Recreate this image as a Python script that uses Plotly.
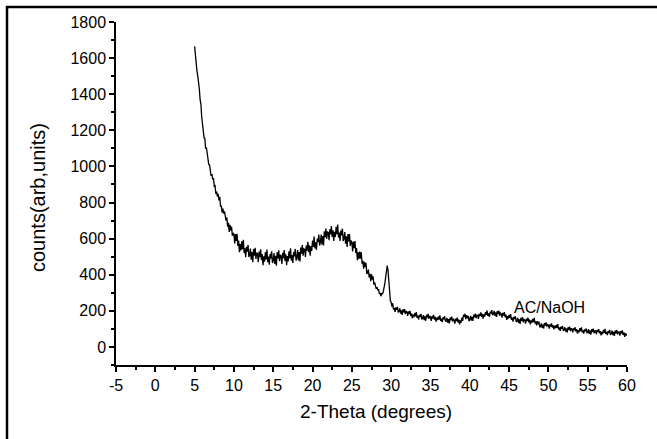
import plotly.graph_objects as go

# XRD scan: 2-theta from 5.0 to 60.0 deg, step 0.1 deg
theta_start = 5.0
theta_step = 0.1

counts = [
    # 5.0 - 5.9
    1665, 1605, 1592, 1528, 1502, 1435, 1430, 1368, 1347, 1275,
    # 6
    1232, 1217, 1158, 1155, 1098, 1105, 1063, 1060, 1010, 1008,
    # 7
    985, 948, 957, 928, 935, 890, 893, 848, 860, 833,
    # 8
    848, 812, 832, 777, 783, 744, 767, 739, 751, 702,
    # 9
    700, 717, 666, 687, 637, 677, 645, 666, 616, 632,
    # 10
    625, 573, 625, 588, 627, 560, 590, 525, 570, 535,
    # 11
    585, 542, 593, 520, 546, 497, 555, 528, 565, 498,
    # 12
    507, 545, 483, 526, 469, 542, 505, 549, 488, 522,
    # 13
    515, 469, 528, 497, 541, 480, 514, 453, 502, 472,
    # 14
    525, 485, 540, 470, 500, 455, 515, 490, 530, 465,
    # 15
    480, 520, 460, 505, 450, 525, 490, 535, 475, 510,
    # 16
    505, 460, 521, 491, 537, 477, 513, 453, 504, 474,
    # 17
    530, 491, 547, 478, 509, 465, 526, 502, 543, 479,
    # 18
    495, 537, 479, 526, 473, 550, 517, 564, 506, 543,
    # 19
    540, 498, 561, 534, 582, 525, 563, 506, 559, 532,
    # 20
    590, 554, 612, 546, 579, 538, 601, 580, 623, 562,
    # 21
    580, 623, 566, 614, 562, 640, 608, 656, 599, 637,
    # 22
    635, 591, 652, 623, 669, 610, 646, 587, 638, 609,
    # 23
    665, 624, 678, 606, 634, 587, 645, 618, 655, 587,
    # 24
    600, 636, 572, 613, 554, 625, 585, 625, 560, 590,
    # 25
    580, 529, 583, 547, 586, 520, 548, 481, 524, 487,
    # 26
    529, 489, 525, 461, 477, 433, 472, 443, 466, 405,
    # 27
    411, 428, 385, 405, 365, 403, 373, 391, 346, 358,
    # 28
    343, 322, 331, 314, 320, 294, 300, 281, 298, 293,
    # 29
    306, 322, 352, 385, 425, 450, 425, 365, 300, 255,
    # 30
    248, 224, 242, 207, 217, 194, 219, 206, 222, 192,
    # 31
    198, 214, 185, 203, 177, 208, 191, 210, 182, 197,
    # 32
    194, 172, 197, 182, 200, 171, 186, 158, 179, 165,
    # 33
    188, 170, 193, 161, 173, 152, 178, 166, 183, 153,
    # 34
    158, 176, 149, 169, 145, 178, 163, 183, 156, 172,
    # 35
    164, 144, 171, 158, 178, 151, 167, 140, 162, 149,
    # 36
    168, 151, 175, 144, 157, 137, 164, 153, 171, 142,
    # 37
    143, 161, 134, 154, 130, 163, 148, 168, 141, 157,
    # 38
    149, 129, 156, 143, 163, 136, 152, 125, 147, 134,
    # 39
    162, 144, 178, 165, 184, 154, 176, 158, 172, 143,
    # 40
    153, 172, 146, 167, 144, 178, 164, 185, 159, 176,
    # 41
    174, 155, 183, 172, 192, 166, 183, 157, 180, 168,
    # 42
    193, 177, 202, 172, 186, 167, 195, 185, 204, 176,
    # 43
    183, 200, 172, 191, 166, 198, 182, 201, 173, 188,
    # 44
    184, 163, 189, 174, 193, 165, 179, 150, 171, 157,
    # 45
    178, 160, 182, 150, 162, 140, 166, 154, 170, 139,
    # 46
    143, 161, 133, 153, 128, 161, 145, 165, 137, 153,
    # 47
    149, 129, 156, 143, 163, 136, 152, 125, 147, 134,
    # 48
    155, 138, 161, 130, 142, 120, 143, 126, 140, 109,
    # 49
    114, 130, 106, 124, 102, 132, 118, 136, 112, 126,
    # 50
    119, 101, 125, 113, 131, 107, 121, 97, 117, 105,
    # 51
    122, 105, 126, 97, 108, 89, 112, 101, 116, 89,
    # 52
    94, 109, 85, 102, 80, 109, 95, 112, 88, 101,
    # 53
    99, 81, 104, 92, 109, 85, 98, 74, 93, 81,
    # 54
    104, 88, 109, 81, 92, 74, 97, 87, 102, 76,
    # 55
    82, 98, 73, 91, 68, 98, 83, 101, 76, 90,
    # 56
    89, 71, 94, 82, 99, 75, 88, 64, 83, 71,
    # 57
    94, 78, 100, 71, 83, 65, 88, 78, 94, 67,
    # 58
    74, 90, 66, 83, 61, 91, 76, 94, 70, 83,
    # 59
    82, 63, 87, 74, 92, 67, 81, 56, 76, 63,
    # 60.0
    72,
]
two_theta = [round(theta_start + i * theta_step, 2) for i in range(len(counts))]

x_range = [-5, 60]
y_range = [-100, 1800]
x_tick_vals = [-5, 0, 5, 10, 15, 20, 25, 30, 35, 40, 45, 50, 55, 60]
x_tick_text = ["-5", "0", "5", "10", "15", "20", "25", "30", "35", "40", "45", "50", "55", "60"]
y_tick_vals = [0, 200, 400, 600, 800, 1000, 1200, 1400, 1600, 1800]
y_tick_text = ["0", "200", "400", "600", "800", "1000", "1200", "1400", "1600", "1800"]
series_label = "AC/NaOH"
x_title = "2-Theta (degrees)"
y_title = "counts(arb,units)"

FONT = "Liberation Sans, Arial, sans-serif"

fig = go.Figure()
fig.add_trace(go.Scatter(
    x=two_theta, y=counts, mode="lines",
    line=dict(color="black", width=1.3),
    showlegend=False, hoverinfo="skip",
))

W, H = 657, 439
L, R, T, B = 116, 30, 22, 74
pw, ph = W - L - R, H - T - B

def px2paper_x(px):
    return (px - L) / pw

def px2paper_y(py):
    return (H - B - py) / ph

axis_common = dict(
    showline=True, linecolor="black", linewidth=1.5,
    ticks="outside", ticklen=5, tickwidth=1.5, tickcolor="black",
    showgrid=False, zeroline=False, mirror=False,
    tickfont=dict(family=FONT, size=16, color="black"),
    tickmode="array",
)

fig.update_layout(
    width=W, height=H,
    margin=dict(l=L, r=R, t=T, b=B, pad=0),
    paper_bgcolor="white", plot_bgcolor="white",
    xaxis=dict(range=x_range, tickvals=x_tick_vals, ticktext=x_tick_text,
               minor=dict(tickmode="linear", tick0=-5, dtick=2.5, ticklen=3, tickwidth=1.5,
                          tickcolor="black", ticks="outside"),
               **axis_common),
    yaxis=dict(range=y_range, tickvals=y_tick_vals, ticktext=y_tick_text,
               minor=dict(tickmode="linear", tick0=0, dtick=100, ticklen=3, tickwidth=1.5,
                          tickcolor="black", ticks="outside"),
               **axis_common),
    annotations=[
        dict(text=x_title, xref="paper", yref="paper",
             x=px2paper_x(376), y=px2paper_y(411), xanchor="center", yanchor="middle",
             showarrow=False, font=dict(family=FONT, size=19, color="black")),
        dict(text=y_title, xref="paper", yref="paper", textangle=-90,
             x=px2paper_x(38), y=px2paper_y(198), xanchor="center", yanchor="middle",
             showarrow=False, font=dict(family=FONT, size=20, color="black")),
        dict(text=series_label, xref="x", yref="y", x=50.1, y=221,
             xanchor="center", yanchor="middle", showarrow=False,
             font=dict(family=FONT, size=16, color="black")),
    ],
    shapes=[
        dict(type="line", xref="paper", yref="paper",
             x0=px2paper_x(6), x1=px2paper_x(660), y0=px2paper_y(7), y1=px2paper_y(7),
             line=dict(color="black", width=2.5)),
        dict(type="line", xref="paper", yref="paper",
             x0=px2paper_x(7), x1=px2paper_x(7), y0=px2paper_y(6), y1=px2paper_y(442),
             line=dict(color="black", width=2.5)),
    ],
)

fig.write_html(
    "out.html",
    config={"displayModeBar": False},
    post_script="document.body.style.margin='0';document.body.style.overflow='hidden';",
)
